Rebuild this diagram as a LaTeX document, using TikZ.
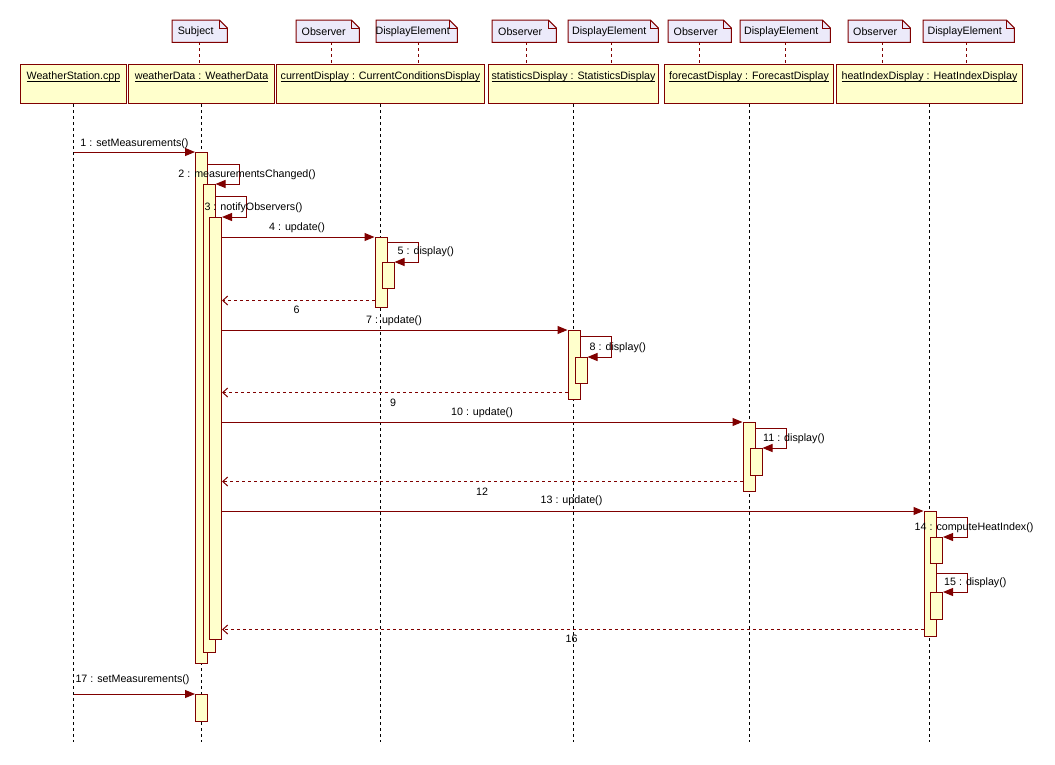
\documentclass[tikz,border=0pt]{standalone}
\usepackage{fontspec}
\setmainfont{Liberation Sans}
\usetikzlibrary{arrows.meta}
\definecolor{bd}{RGB}{128,0,0}
\definecolor{boxfill}{RGB}{255,255,204}
\definecolor{notefill}{RGB}{236,234,250}
\newcommand\myul[1]{\setbox0\hbox{#1}\rlap{\vrule height -1.3pt depth 2.3pt width \wd0}\box0}
\begin{document}
\begin{tikzpicture}[x=1pt,y=-1pt, font=\fontsize{10.7}{13}\selectfont,
  hdr/.style={draw=bd, fill=boxfill, line width=1pt, minimum height=39pt, anchor=north west, inner sep=0},
  bar/.style={draw=bd, fill=boxfill, line width=1pt, minimum width=12pt, anchor=north west, inner sep=0},
  note/.style={minimum height=22pt, anchor=north west, inner sep=0},
  notebd/.style={draw=bd, fill=notefill, line width=1pt, line join=miter},
  notefold/.style={draw=bd, line width=1pt},
  lifeline/.style={black, line width=1pt, dash pattern=on 3pt off 3pt},
  notelink/.style={bd, line width=1pt, dash pattern=on 3pt off 3pt},
  msg/.style={bd, line width=1pt, -{Triangle[length=10pt,width=8pt]}},
  ret/.style={bd, line width=1pt, dash pattern=on 3pt off 3pt, -{Straight Barb[length=5pt,width=9pt]}},
  lbl/.style={inner sep=0, text=black}]
\useasboundingbox[fill=white] (0,0) rectangle (1055,764);

% header boxes
\node[hdr, minimum width=106pt] (ws) at (20,64) {};
\node[hdr, minimum width=146pt] (wd) at (128,64) {};
\node[hdr, minimum width=208pt] (cd) at (276,64) {};
\node[hdr, minimum width=170pt] (sd) at (488,64) {};
\node[hdr, minimum width=169pt] (fd) at (664,64) {};
\node[hdr, minimum width=186pt] (hd) at (836,64) {};
\node[lbl] at ([yshift=-12.5pt]ws.north) {\myul{WeatherStation.cpp}};
\node[lbl] at ([yshift=-12.5pt]wd.north) {\myul{weatherData : WeatherData}};
\node[lbl] at ([yshift=-12.5pt]cd.north) {\myul{currentDisplay : CurrentConditionsDisplay}};
\node[lbl] at ([yshift=-12.5pt]sd.north) {\myul{statisticsDisplay : StatisticsDisplay}};
\node[lbl] at ([yshift=-12.5pt]fd.north) {\myul{forecastDisplay : ForecastDisplay}};
\node[lbl] at ([yshift=-12.5pt]hd.north) {\myul{heatIndexDisplay : HeatIndexDisplay}};

% notes
\node[note, minimum width=55pt] (nS) at (172,20) {};
\node[note, minimum width=63pt] (nO1) at (296,20) {};
\node[note, minimum width=81pt] (nD1) at (376,20) {};
\node[note, minimum width=64pt] (nO2) at (492,20) {};
\node[note, minimum width=90pt] (nD2) at (568,20) {};
\node[note, minimum width=63pt] (nO3) at (668,20) {};
\node[note, minimum width=90pt] (nD3) at (740,20) {};
\node[note, minimum width=62pt] (nO4) at (848,20) {};
\node[note, minimum width=91pt] (nD4) at (923,20) {};
\foreach \n in {nS,nO1,nD1,nO2,nD2,nO3,nD3,nO4,nD4}{
  \draw[notebd] (\n.south west) -- (\n.north west) -- ([xshift=-8pt]\n.north east)
     -- ([yshift=-8pt]\n.north east) -- (\n.south east) -- cycle;
  \draw[notefold] ([xshift=-8pt]\n.north east) -- ([xshift=-8pt,yshift=-8pt]\n.north east)
     -- ([yshift=-8pt]\n.north east);
}
\node[lbl] at ([xshift=-4pt,yshift=-1pt]nS.center) {Subject};
\node[lbl] at ([xshift=-4pt]nO1.center) {Observer};
\node[lbl] at ([xshift=-4pt,yshift=-1pt]nD1.center) {DisplayElement};
\node[lbl] at ([xshift=-4pt]nO2.center) {Observer};
\node[lbl] at ([xshift=-4pt,yshift=-1pt]nD2.center) {DisplayElement};
\node[lbl] at ([xshift=-4pt]nO3.center) {Observer};
\node[lbl] at ([xshift=-4pt,yshift=-1pt]nD3.center) {DisplayElement};
\node[lbl] at ([xshift=-4pt]nO4.center) {Observer};
\node[lbl] at ([xshift=-4pt,yshift=-1pt]nD4.center) {DisplayElement};
\draw[notelink] ([xshift=0pt]nS.south) -- (nS.south |- wd.north);
\draw[notelink] ([xshift=4pt]nO1.south) -- ([xshift=4pt]nO1.south |- cd.north);
\draw[notelink] ([xshift=2pt]nD1.south) -- ([xshift=2pt]nD1.south |- cd.north);
\draw[notelink] ([xshift=2pt]nO2.south) -- ([xshift=2pt]nO2.south |- sd.north);
\draw[notelink] ([xshift=-2pt]nD2.south) -- ([xshift=-2pt]nD2.south |- sd.north);
\draw[notelink] (nO3.south) -- (nO3.south |- fd.north);
\draw[notelink] (nD3.south) -- (nD3.south |- fd.north);
\draw[notelink] ([xshift=3pt]nO4.south) -- ([xshift=3pt]nO4.south |- hd.north);
\draw[notelink] ([xshift=-2pt]nD4.south) -- ([xshift=-2pt]nD4.south |- hd.north);

% lifelines
\coordinate (llend) at (0,742);
\foreach \b in {ws,wd,cd,sd,fd,hd}{
  \draw[lifeline] (\b.south) -- (\b.south |- llend);
}

% activation bars
\node[bar, minimum height=511pt] (A) at (195,152) {};
\node[bar, minimum height=468pt] (B) at (202.5,184) {};
\node[bar, minimum height=422pt] (C) at (209,217) {};
\node[bar, minimum height=70pt] (D) at (374.5,237) {};
\node[bar, minimum height=26pt] (E) at (381.5,262) {};
\node[bar, minimum height=69pt] (F) at (567.5,330) {};
\node[bar, minimum height=26pt] (G) at (574.5,357) {};
\node[bar, minimum height=69pt] (H) at (742.5,422) {};
\node[bar, minimum height=27pt] (I) at (749.5,448) {};
\node[bar, minimum height=125pt] (J) at (923.5,511) {};
\node[bar, minimum height=26pt] (K) at (930,537) {};
\node[bar, minimum height=27pt] (L) at (930,592) {};
\node[bar, minimum height=27pt] (M) at (195,694) {};

% synchronous messages
\draw[msg] (ws.south |- A.north) -- (A.north west);
\draw[msg] ([yshift=-12pt]A.north east) -- ++(31,0) |- (B.north east);
\draw[msg] ([yshift=-12pt]B.north east) -- ++(31,0) |- (C.north east);
\draw[msg] (C.east |- D.north) -- (D.north west);
\draw[msg] ([yshift=-5pt]D.north east) -- ++(31,0) |- (E.north east);
\draw[msg] (C.east |- F.north) -- (F.north west);
\draw[msg] ([yshift=-6pt]F.north east) -- ++(31,0) |- (G.north east);
\draw[msg] (C.east |- H.north) -- (H.north west);
\draw[msg] ([yshift=-6pt]H.north east) -- ++(31,0) |- (I.north east);
\draw[msg] (C.east |- J.north) -- (J.north west);
\draw[msg] ([yshift=-6pt]J.north east) -- ++(31,0) |- (K.north east);
\draw[msg] ([yshift=-62pt]J.north east) -- ++(31,0) |- (L.north east);
\draw[msg] (ws.south |- M.north) -- (M.north west);

% returns
\coordinate (r6) at ([yshift=7.5pt]D.south west);
\coordinate (r9) at ([yshift=7.5pt]F.south west);
\coordinate (r12) at ([yshift=10.5pt]H.south west);
\coordinate (r16) at ([yshift=7.5pt]J.south west);
\draw[ret] (r6) -- (C.east |- r6);
\draw[ret] (r9) -- (C.east |- r9);
\draw[ret] (r12) -- (C.east |- r12);
\draw[ret] (r16) -- (C.east |- r16);

% message labels
\node[lbl] at (134.5,143.5) {1 : setMeasurements()};
\node[lbl] at (247,175) {2 : measurementsChanged()};
\node[lbl] at (253.5,207.5) {3 : notifyObservers()};
\node[lbl] at (297,227.5) {4 : update()};
\node[lbl, anchor=west] at (397.5,252) {5 : display()};
\node[lbl] at (296.5,310) {6};
\node[lbl] at (394,321) {7 : update()};
\node[lbl, anchor=west] at (589.5,347.5) {8 : display()};
\node[lbl] at (393,403) {9};
\node[lbl] at (482,413) {10 : update()};
\node[lbl, anchor=west] at (763,439) {11 : display()};
\node[lbl] at (482,491.5) {12};
\node[lbl] at (571.5,501) {13 : update()};
\node[lbl, anchor=west] at (914.5,527.5) {14 : computeHeatIndex()};
\node[lbl, anchor=west] at (944,583) {15 : display()};
\node[lbl] at (571.5,639) {16};
\node[lbl] at (132.5,679.5) {17 : setMeasurements()};
\end{tikzpicture}
\end{document}
